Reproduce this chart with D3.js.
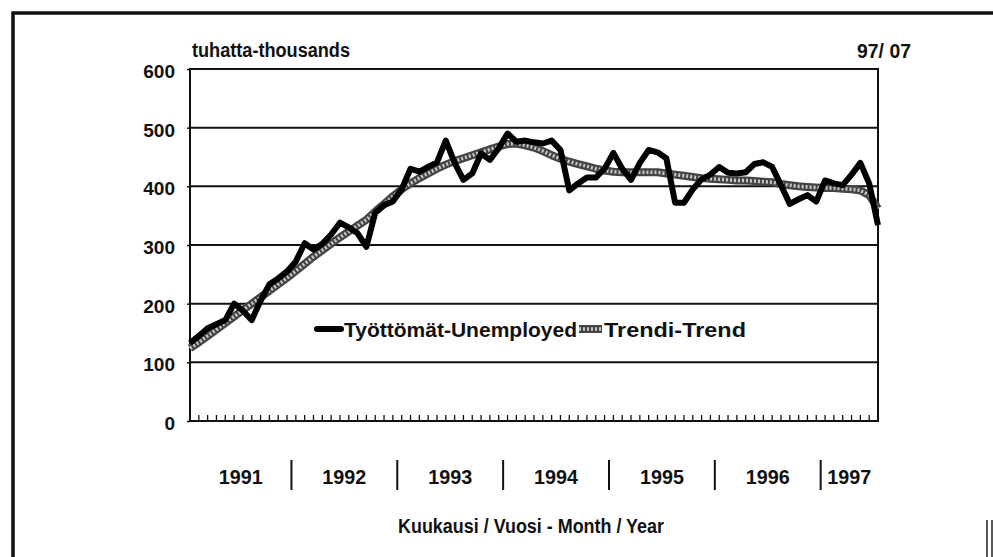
<!DOCTYPE html>
<html>
<head>
<meta charset="utf-8">
<script src="https://cdn.jsdelivr.net/npm/d3@7"></script>
<style>
  body { margin: 0; background: #fff; }
  svg text { font-family: "Liberation Sans", Arial, sans-serif; font-weight: bold; fill: #111; }
</style>
</head>
<body>
<div id="chart"></div>
<script>
// monthly, Jan 1991 .. Jul 1997
const years = ['1991', '1992', '1993', '1994', '1995', '1996', '1997'];
const unemployed = [
  133, 145, 158, 165, 172, 200, 188, 172, 205, 233, 243, 255,
  272, 303, 292, 302, 318, 338, 330, 320, 297, 355, 368, 374,
  395, 430, 425, 433, 441, 478, 440, 411, 422, 456, 445, 465,
  490, 476, 478, 475, 473, 478, 462, 393, 405, 415, 415, 430,
  457, 430, 411, 440, 462, 458, 448, 372, 372, 395, 412, 420,
  433, 423, 422, 424, 438, 441, 433, 402, 370, 378, 385, 374,
  410, 405, 402, 420, 440, 405, 334
];
const trend = [
  124, 134, 145, 156, 167, 178, 189, 200, 211, 222, 233, 244,
  256, 268, 280, 291, 302, 313, 323, 333, 343, 357, 370, 383,
  395, 405, 414, 422, 430, 437, 443, 448, 453, 458, 463, 468,
  472, 473, 470, 466, 460, 453, 447, 442, 438, 434, 430, 427,
  425, 424, 424, 424, 424, 424, 422, 420, 418, 416, 414, 413,
  412, 411, 410, 410, 409, 408, 407, 404, 402, 400, 399, 398,
  397, 397, 396, 395, 393, 385, 362
];
const yTicks = [0, 100, 200, 300, 400, 500, 600];
const seriesNames = ['Työttömät-Unemployed', 'Trendi-Trend'];

const width = 993, height = 557;
const margin = { top: 69, right: 115, bottom: 136, left: 190 };
const plotW = width - margin.left - margin.right;
const plotH = height - margin.top - margin.bottom;

const svg = d3.select('#chart').append('svg')
  .attr('width', width)
  .attr('height', height);

// scanned page frame
svg.append('path')
  .attr('d', 'M13,' + height + ' V13 H' + width)
  .attr('fill', 'none')
  .attr('stroke', '#111')
  .attr('stroke-width', 3.5);

const months = d3.range(unemployed.length);

const x = d3.scalePoint()
  .domain(months)
  .range([0, plotW]);
const step = x.step();

const y = d3.scaleLinear()
  .domain([0, 600])
  .range([plotH, 0]);

const g = svg.append('g')
  .attr('transform', 'translate(' + margin.left + ',' + margin.top + ')');

// gridlines
g.append('g')
  .selectAll('line')
  .data(yTicks.filter(d => d > 0 && d < 600))
  .enter().append('line')
  .attr('x1', 0)
  .attr('x2', plotW)
  .attr('y1', d => y(d))
  .attr('y2', d => y(d))
  .attr('stroke', '#111')
  .attr('stroke-width', 2);

// frame of plot
g.append('rect')
  .attr('width', plotW)
  .attr('height', plotH)
  .attr('fill', 'none')
  .attr('stroke', '#111')
  .attr('stroke-width', 2);

// y axis
const yAxis = g.append('g')
  .call(d3.axisLeft(y).tickValues(yTicks).tickSize(3).tickPadding(12));
yAxis.select('.domain').remove();
yAxis.selectAll('line').attr('stroke', '#111').attr('stroke-width', 1.5);
yAxis.selectAll('text')
  .style('font-size', '19px')
  .attr('dy', '0.45em');

// month tick marks
g.append('g')
  .attr('transform', 'translate(0,' + plotH + ')')
  .selectAll('line')
  .data(months)
  .enter().append('line')
  .attr('x1', d => x(d))
  .attr('x2', d => x(d))
  .attr('y1', 0)
  .attr('y2', -6)
  .attr('stroke', '#111')
  .attr('stroke-width', 1.3);

// year separators and labels
const yearG = g.append('g').attr('transform', 'translate(0,' + plotH + ')');
yearG.selectAll('line')
  .data(years.slice(1))
  .enter().append('line')
  .attr('x1', (d, i) => x((i + 1) * 12) - step / 2)
  .attr('x2', (d, i) => x((i + 1) * 12) - step / 2)
  .attr('y1', 39)
  .attr('y2', 69)
  .attr('stroke', '#111')
  .attr('stroke-width', 2);

yearG.selectAll('text')
  .data(years)
  .enter().append('text')
  .attr('x', (d, i) => {
    const a = i === 0 ? 0 : x(i * 12) - step / 2;
    const b = Math.min(x(Math.min((i + 1) * 12, months.length - 1)) + (i < years.length - 1 ? -step / 2 : 0), plotW);
    return (a + b) / 2 - 22;
  })
  .attr('y', 63)
  .attr('textLength', 44)
  .attr('lengthAdjust', 'spacingAndGlyphs')
  .style('font-size', '20px')
  .text(d => d);

// lines
const line = d3.line()
  .x((d, i) => x(i))
  .y(d => y(d));

g.append('path')
  .datum(trend)
  .attr('d', line)
  .attr('fill', 'none')
  .attr('stroke', '#444')
  .attr('stroke-width', 8)
  .attr('stroke-linejoin', 'round');
g.append('path')
  .datum(trend)
  .attr('d', line)
  .attr('fill', 'none')
  .attr('stroke', '#c8c8c8')
  .attr('stroke-width', 3.5)
  .attr('stroke-dasharray', '2 2');

g.append('path')
  .datum(unemployed)
  .attr('d', line)
  .attr('fill', 'none')
  .attr('stroke', '#000')
  .attr('stroke-width', 6)
  .attr('stroke-linejoin', 'round');

// legend
const legend = svg.append('g').attr('transform', 'translate(0,329)');
const leg1 = legend.append('g').attr('transform', 'translate(317,0)');
leg1.append('line')
  .attr('x1', 0).attr('x2', 24)
  .attr('stroke', '#000').attr('stroke-width', 6).attr('stroke-linecap', 'round');
leg1.append('text')
  .attr('x', 27).attr('dy', '0.36em')
  .attr('textLength', 233)
  .attr('lengthAdjust', 'spacingAndGlyphs')
  .style('font-size', '21px')
  .text(seriesNames[0]);

const leg2 = legend.append('g').attr('transform', 'translate(579,0)');
leg2.append('line')
  .attr('x1', 0).attr('x2', 23)
  .attr('stroke', '#444').attr('stroke-width', 8);
leg2.append('line')
  .attr('x1', 0).attr('x2', 23)
  .attr('stroke', '#c8c8c8').attr('stroke-width', 3.5).attr('stroke-dasharray', '2 2');
leg2.append('text')
  .attr('x', 25).attr('dy', '0.36em')
  .attr('textLength', 142)
  .attr('lengthAdjust', 'spacingAndGlyphs')
  .style('font-size', '21px')
  .text(seriesNames[1]);

// titles
svg.append('text')
  .attr('x', 192)
  .attr('y', 57)
  .attr('textLength', 158)
  .attr('lengthAdjust', 'spacingAndGlyphs')
  .style('font-size', '20px')
  .text('tuhatta-thousands');

svg.append('text')
  .attr('x', 857)
  .attr('y', 58)
  .attr('textLength', 54)
  .attr('lengthAdjust', 'spacingAndGlyphs')
  .style('font-size', '20px')
  .text('97/ 07');

svg.append('text')
  .attr('x', 398)
  .attr('y', 533)
  .attr('textLength', 266)
  .attr('lengthAdjust', 'spacingAndGlyphs')
  .style('font-size', '20px')
  .text('Kuukausi / Vuosi - Month / Year');

// scan marks in the lower right corner
svg.append('g')
  .selectAll('line')
  .data([987, 992])
  .enter().append('line')
  .attr('x1', d => d).attr('x2', d => d)
  .attr('y1', 520).attr('y2', height)
  .attr('stroke', '#222')
  .attr('stroke-width', 1.5);
</script>
</body>
</html>
